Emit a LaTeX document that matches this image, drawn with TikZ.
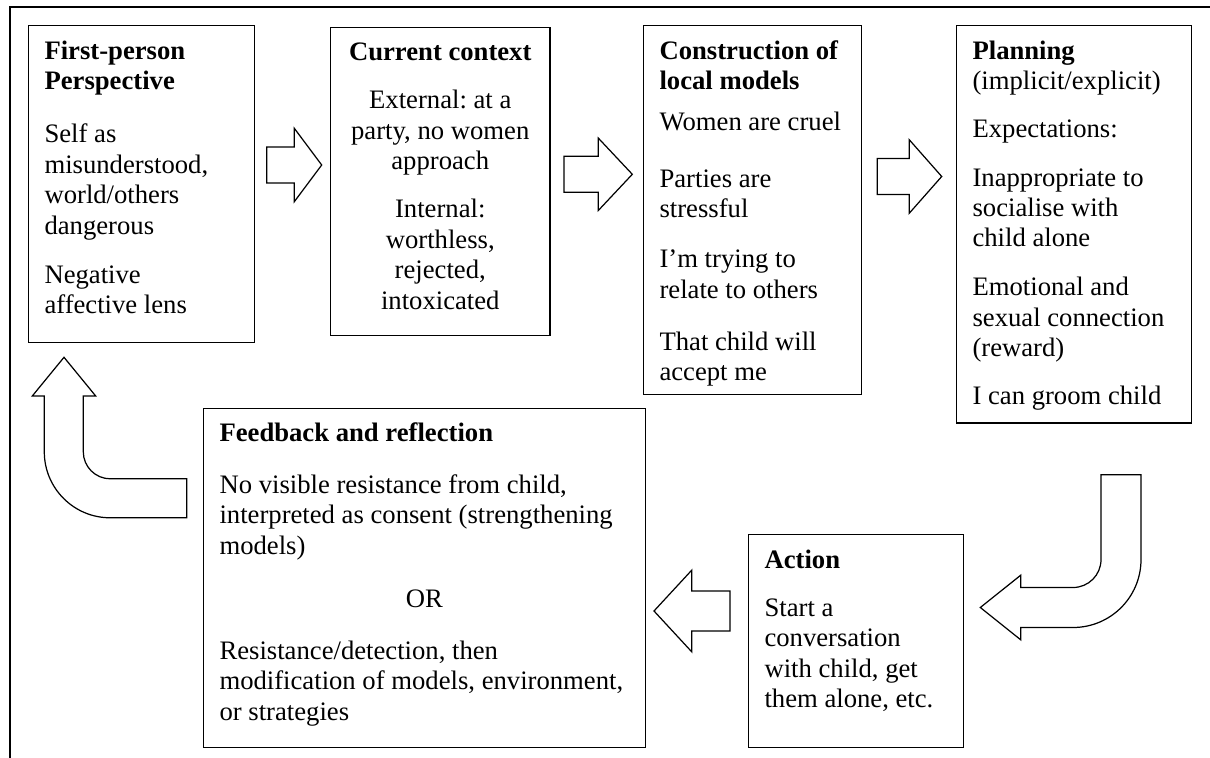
\documentclass[tikz,border=0pt]{standalone}
\usepackage{fontspec}
\setmainfont{Liberation Serif}
\frenchspacing

\newdimen\pxunit \pxunit=0.45pt
% box body: width and height in px, text hangs from the top
\newcommand{\stagebody}[3]{\parbox[t][#2\pxunit][t]{\dimexpr#1\pxunit-14.6pt\relax}{\raggedright\rule{0pt}{15.1pt}#3}}

\tikzset{
  stage/.style={draw, line width=0.55pt, anchor=north west, inner xsep=7.3pt, inner ysep=0pt,
    font=\fontsize{12pt}{13.7pt}\selectfont},
  blockarrow/.style={draw, line width=0.55pt, fill=white, line join=miter},
  pics/fatarrow/.style n args={4}{code={
    \draw[blockarrow] (0,-#3) -- (#1,-#3) -- (#1,-#4) -- (#1+#2,0) -- (#1,#4) -- (#1,#3) -- (0,#3) -- cycle;
  }}
}

\begin{document}
\begin{tikzpicture}[x=0.45pt, y=-0.45pt]
        \useasboundingbox (0,0) rectangle (1210,758);
        \draw[line width=0.8pt] (10,758) -- (10,7.3) -- (1210,7.3);

        % top row
        \node[stage] (first) at (27.7,25) {\stagebody{226}{317}{\textbf{First-person}\\ \textbf{Perspective}\\[10.3pt] Self as\\ misunderstood,\\ world/others\\ dangerous\\[8.4pt] Negative\\ affective lens}};
        \node[stage] (context) at (330,26.7) {\stagebody{219.3}{308.3}{\centering\textbf{Current context}\\[7.9pt] External: at a\\ party, no women\\ approach\\[8pt] Internal:\\ worthless,\\ rejected,\\ intoxicated}};
        \node[stage] (models) at (642.7,25) {\stagebody{218.3}{369}{\textbf{Construction of}\\ \textbf{local models}\\[4.5pt] Women are cruel\\[12pt] Parties are\\ stressful\\[8.8pt] I’m trying to\\ relate to others\\[9.7pt] That child will\\ accept me}};
        \node[stage] (planning) at (955.7,25) {\stagebody{235.3}{397.3}{\textbf{Planning}\\ (implicit/explicit)\\[8pt] Expectations:\\[8pt] Inappropriate to\\ socialise with\\ child alone\\[8.3pt] Emotional and\\ sexual connection\\ (reward)\\[8pt] I can groom child}};

        % bottom row
        \node[stage] (feedback) at (202.7,407.7) {\stagebody{442}{339}{\textbf{Feedback and reflection}\\[9.5pt] No visible resistance from child,\\ interpreted as consent (strengthening\\ models)\\[10.2pt] \makebox[\linewidth]{OR}\\[9.7pt] Resistance/detection, then\\ modification of models, environment,\\ or strategies}};
        \node[stage] (action) at (747.7,534) {\stagebody{215.3}{212.7}{\textbf{Action}\\[7.9pt] Start a\\ conversation\\ with child, get\\ them alone, etc.}};

        % straight block arrows
        \pic (arrA) at (266.7,165) {fatarrow={27.6}{27.4}{18}{36.7}};
        \pic (arrB) at (564,174.3) {fatarrow={34.3}{34}{18}{36.2}};
        \pic (arrC) at (877.3,176.5) {fatarrow={32}{32.4}{18}{36.7}};
        \pic[rotate=180] (arrD) at (730,611) {fatarrow={38.3}{37.7}{20}{40.8}};

        % bent arrow planning -> action
        \draw[blockarrow] (1101,474.7) -- (1141,474.7) -- (1141,559.5)
          .. controls (1141,597.1) and (1110.6,627.5) .. (1073,627.5)
          -- (1020.7,627.5) -- (1020.7,639.8) -- (980.3,607.5) -- (1020.7,575.2) -- (1020.7,587.5) -- (1073,587.5)
          .. controls (1088.5,587.5) and (1101,575) .. (1101,559.5) -- cycle;

        % bent arrow feedback -> first-person
        \draw[blockarrow] (64,357.3) -- (95.7,396) -- (83.3,396) -- (83.3,451.8)
          .. controls (83.3,466.7) and (95.4,478.8) .. (110.3,478.8)
          -- (186.7,478.8) -- (186.7,517.8) -- (110.3,517.8)
          .. controls (73.8,517.8) and (44.3,488.3) .. (44.3,451.8)
          -- (44.3,396) -- (32.3,396) -- cycle;
\end{tikzpicture}
\end{document}
